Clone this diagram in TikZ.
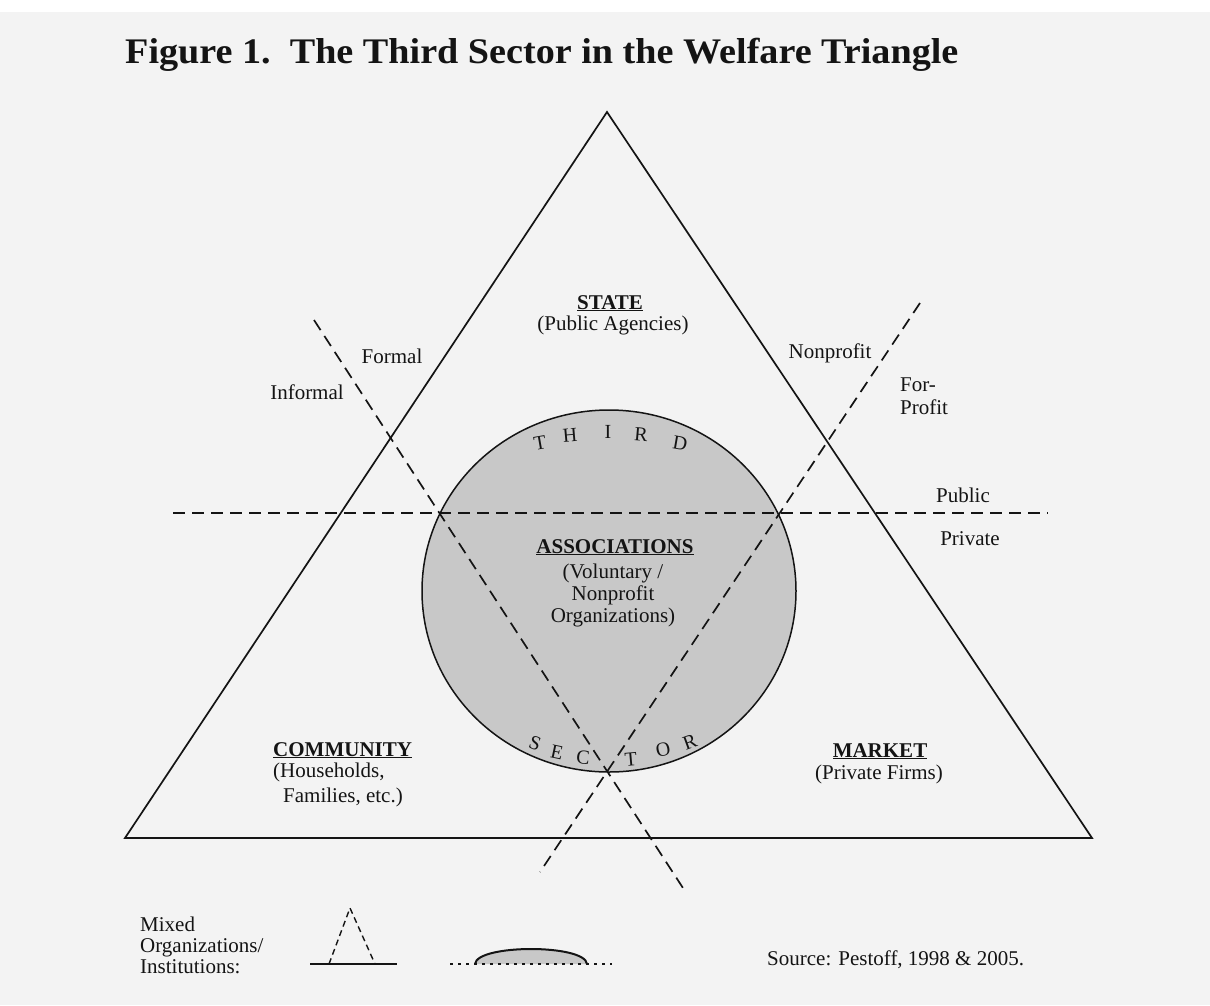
\documentclass[tikz,border=0pt]{standalone}
\usepackage{fontspec}
\usepackage{graphicx}
\setmainfont{Liberation Serif}
\usetikzlibrary{shapes.geometric}
\definecolor{bgc}{RGB}{243,243,243}
\definecolor{cgray}{RGB}{200,200,200}
\definecolor{ink}{RGB}{20,20,20}
\begin{document}
\begin{tikzpicture}[x=1pt,y=-1pt,
  lbl/.style={font=\fontsize{21}{23}\selectfont, text=ink, inner sep=0pt, anchor=base},
  lblw/.style={lbl, anchor=base west},
  hd/.style={lbl, font=\fontsize{21}{23}\selectfont\bfseries},
  hdw/.style={hd, anchor=base west},
  arcl/.style={font=\fontsize{20}{22}\selectfont, text=ink, inner sep=0pt, anchor=center},
  dsh/.style={draw=ink, line width=1.7pt, dash pattern=on 12pt off 7pt},
  solidline/.style={draw=ink, line width=1.7pt}
]
\useasboundingbox (0,0) rectangle (1210,1005);
\fill[bgc] (0,0) rectangle (1210,1005);
\fill[white] (0,0) rectangle (1210,12);

% title
\node[anchor=base west, inner sep=0pt, text=ink] (title) at (125,63)
  {\scalebox{1.06}[1]{\fontsize{36}{38}\selectfont\bfseries Figure 1.\ \ The Third Sector in the Welfare Triangle}};

% circle
\node[ellipse, draw=ink, line width=1.5pt, fill=cgray, minimum width=374pt, minimum height=362pt, inner sep=0pt] (circ) at (609,591) {};

% triangle
\coordinate (apex) at (607,112);
\coordinate (bl) at (125,838);
\coordinate (br) at (1092,838);
\draw[solidline, line join=miter] (apex) -- (bl) -- (br) -- cycle;

% dashed dividing lines
\coordinate (h1) at (173,513);
\coordinate (h2) at (1048,513);
\coordinate (a1) at (314,320);
\coordinate (a2) at (683,888);
\coordinate (b1) at (920,303);
\coordinate (b2) at (540,872);
\draw[dsh] (h1) -- (h2);
\draw[dsh] (a1) -- (a2);
\draw[dsh] (b1) -- (b2);

% sector labels
\node[hd] (state) at (610,309) {\underline{STATE}};
\node[lbl] (pubag) at (613,330) {(Public Agencies)};
\node[hd] (assoc) at (615,553) {\underline{ASSOCIATIONS}};
\node[lbl] (vol) at (613,578) {(Voluntary /};
\node[lbl] (nonp) at (613,600) {Nonprofit};
\node[lbl] (orgs) at (613,622) {Organizations)};
\node[hdw] (comm) at (273,756) {\underline{COMMUNITY}};
\node[lblw] (hh) at (273,777) {(Households,};
\node[lblw] (fam) at (283,802) {Families, etc.)};
\node[hd] (market) at (880,757) {\underline{MARKET}};
\node[lbl] (firms) at (879,779) {(Private Firms)};

% dimension labels
\node[lbl] (formal) at (392,363) {Formal};
\node[lbl] (informal) at (307,399) {Informal};
\node[lbl] (nprof) at (830,358) {Nonprofit};
\node[lblw] (for) at (900,391) {For-};
\node[lblw] (profit) at (900,414) {Profit};
\node[lbl] (public) at (963,502) {Public};
\node[lbl] (private) at (970,545) {Private};

% THIRD along top arc
\node[arcl, rotate=10] (t1) at (540,443) {T};
\node[arcl, rotate=5] (t2) at (570,435) {H};
\node[arcl] (t3) at (608,432) {I};
\node[arcl, rotate=-5] (t4) at (641,435) {R};
\node[arcl, rotate=-10] (t5) at (680,443) {D};

% SECTOR along bottom arc
\node[arcl, rotate=-20] (s1) at (535,743) {S};
\node[arcl, rotate=-12] (s2) at (557,752) {E};
\node[arcl, rotate=-5] (s3) at (583,758) {C};
\node[arcl, rotate=5] (s4) at (631,759) {T};
\node[arcl, rotate=12] (s5) at (663,750) {O};
\node[arcl, rotate=20] (s6) at (690,742) {R};

% legend
\node[lblw] (mixed) at (140,931) {Mixed};
\node[lblw] (orgsl) at (140,952) {Organizations/};
\node[lblw] (inst) at (140,973) {Institutions:};

\coordinate (lb1) at (310,964);
\coordinate (lb2) at (397,964);
\coordinate (lt1) at (329,964);
\coordinate (ltop) at (350,908);
\coordinate (lt2) at (375,964);
\draw[draw=ink, line width=1.4pt, dash pattern=on 6pt off 4pt] (lt1) -- (ltop) -- (lt2);
\draw[draw=ink, line width=2.6pt] (lb1) -- (lb2);

\coordinate (ea) at (475,964);
\coordinate (eb) at (587,964);
\coordinate (d1) at (450,964);
\coordinate (d2) at (612,964);
\fill[cgray] (ea) .. controls (477,944) and (585,944) .. (eb) -- cycle;
\draw[draw=ink, line width=2pt] (ea) .. controls (477,944) and (585,944) .. (eb);
\draw[draw=ink, line width=1.6pt, dash pattern=on 3pt off 5pt] (d1) -- (d2);

\node[lblw] (source) at (767,965) {Source: Pestoff, 1998 \& 2005.};
\end{tikzpicture}
\end{document}
